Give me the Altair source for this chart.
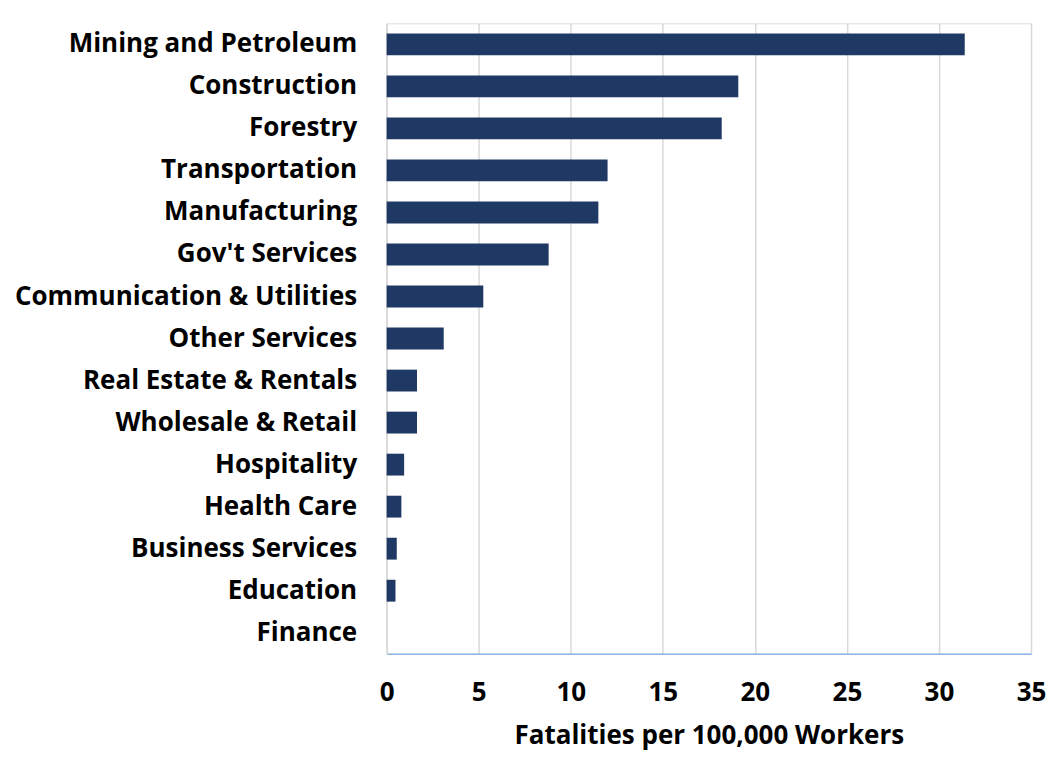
import altair as alt
import pandas as pd

categories = [
    "Mining and Petroleum", "Construction", "Forestry", "Transportation",
    "Manufacturing", "Gov't Services", "Communication & Utilities",
    "Other Services", "Real Estate & Rentals", "Wholesale & Retail",
    "Hospitality", "Health Care", "Business Services", "Education", "Finance",
]
values = [31.4, 19.1, 18.2, 12.0, 11.5, 8.8, 5.25, 3.1, 1.65, 1.65,
          0.95, 0.8, 0.55, 0.48, 0.0]
x_ticks = [0, 5, 10, 15, 20, 25, 30, 35]

df = pd.DataFrame({"Industry": categories, "Rate": values})

FONT = "Open Sans"

chart = (
    alt.Chart(df)
    .mark_bar(color="#203864")
    .encode(
        x=alt.X(
            "Rate:Q",
            scale=alt.Scale(domain=[0, 35], nice=False),
            axis=alt.Axis(
                values=x_ticks,
                title="Fatalities per 100,000 Workers",
                titleFontSize=26,
                titleFontWeight="bold",
                titleColor="#000000",
                titleFont=FONT,
                titlePadding=17,
                labelFontSize=26,
                labelFontWeight="bold",
                labelColor="#000000",
                labelFont=FONT,
                labelPadding=26,
                labelFlush=False,
                labelOverlap=False,
                ticks=False,
                domainColor="#8eb4e3",
                domainWidth=1.5,
                gridColor="#d9d9d9",
                gridWidth=1.5,
            ),
        ),
        y=alt.Y(
            "Industry:N",
            sort=categories,
            scale=alt.Scale(paddingInner=0.48, paddingOuter=0.24),
            axis=alt.Axis(
                title=None,
                labelFontSize=26,
                labelFontWeight="bold",
                labelColor="#000000",
                labelFont=FONT,
                labelPadding=30,
                labelLimit=400,
                ticks=False,
                grid=False,
                domainColor="#d9d9d9",
                domainWidth=1.5,
            ),
        ),
    )
    .properties(
        width=645,
        height=631,
        autosize=alt.AutoSizeParams(type="none"),
        padding={"left": 379, "top": 15, "right": 20, "bottom": 100},
    )
    .configure_view(stroke=None)
    .configure(background="#ffffff")
)

chart.save("out.html", embed_options={"renderer": "svg", "actions": False})
